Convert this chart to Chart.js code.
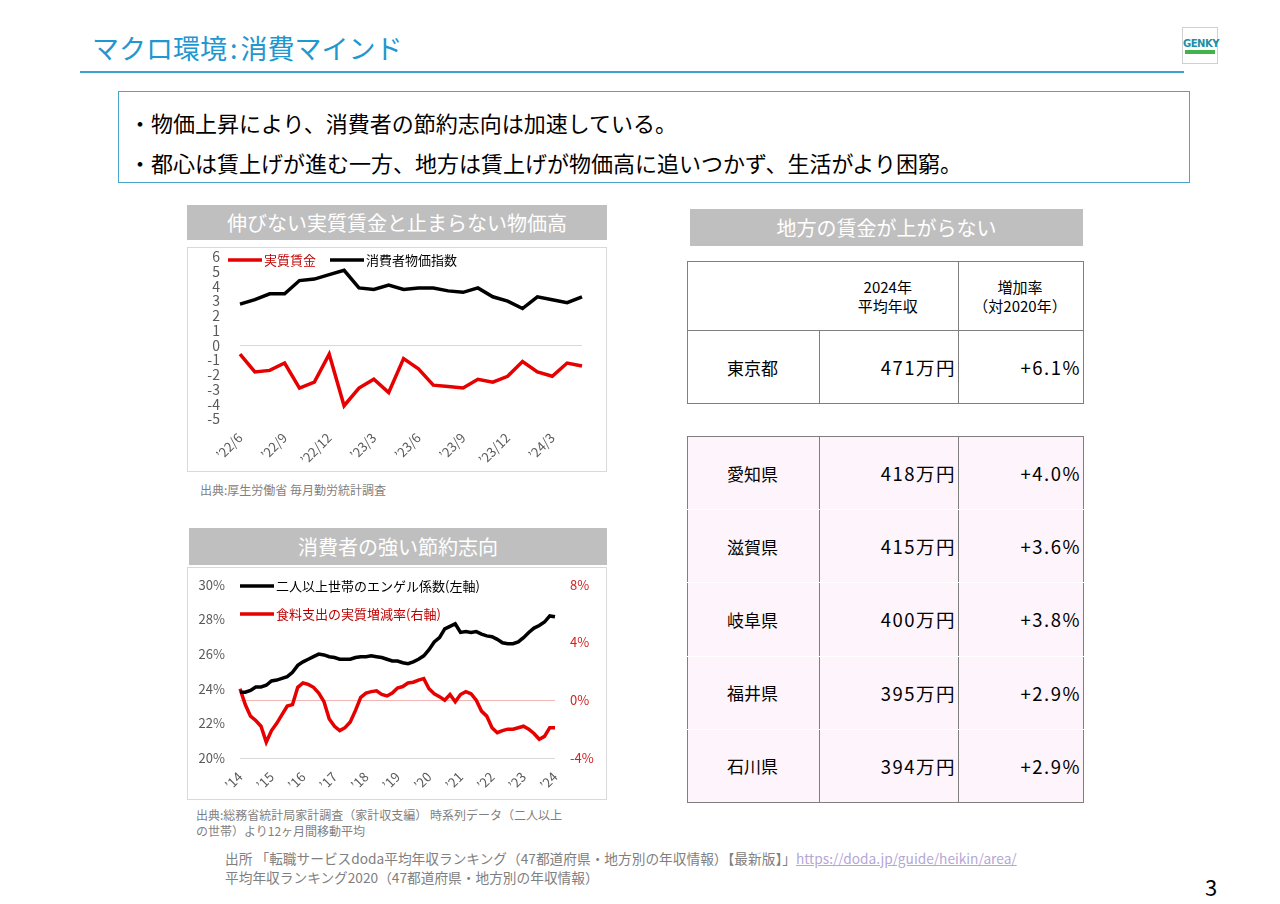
<!DOCTYPE html>
<html lang="ja">
<head>
<meta charset="utf-8">
<script src="https://cdn.jsdelivr.net/npm/chart.js@4.4.1/dist/chart.umd.min.js"></script>
<style>
body{margin:0;width:1280px;height:904px;position:relative;background:#fff;overflow:hidden;
  font-family:"Noto Sans CJK JP","Noto Sans",sans-serif;color:#000}
.abs{position:absolute}
.title{left:92px;top:28px;font-size:27px;color:#1f97cf;white-space:nowrap}
.title span{margin:0 3px}
.rule{left:80px;top:71px;width:1104px;height:2px;background:#3aa3cb}
.logo{left:1182px;top:27px;width:36px;height:37px;border:1px solid #d0d0d0;box-sizing:border-box;text-align:center}
.logo b{display:block;font:bold 10px "DejaVu Sans",sans-serif;color:#1b8fa6;margin-top:10px;letter-spacing:-0.5px}
.logo i{display:block;margin:1px auto 0;width:30px;height:4px;background:#41b34a}
.msg{left:118px;top:91px;width:1072px;height:92px;border:1.5px solid #4aa6c9;box-sizing:border-box;
  font-size:22px;line-height:40px;padding:10px 0 0 10px;white-space:nowrap}
.hdr{background:#bfbfbf;color:#fff;font-size:20px;text-align:center;white-space:nowrap}
.box{border:1px solid #d9d9d9;box-sizing:border-box}
.src{font-size:12px;color:#7f7f7f;line-height:16px;white-space:nowrap}
table{border-collapse:collapse;table-layout:fixed}
td{border:1px solid #7f7f7f;padding:0 2px 0 0;font-size:17px}
td.c{text-align:center}
td.r{text-align:right;font-size:18.5px;letter-spacing:1.5px}
.t2 td{background:#fdf4fc;border-top:1px solid #fff;border-bottom:1px solid #fff}
.t2 tr:first-child td{border-top:1px solid #7f7f7f}
.t2 tr:last-child td{border-bottom:1px solid #7f7f7f}
.foot{left:225px;font-size:13.7px;color:#808080;line-height:16px;white-space:nowrap}
.foot a{color:#b4a7d6;text-decoration:underline}
.pg{left:1205px;top:870px;font-size:22px}
</style>
</head>
<body>
<div class="abs title">マクロ環境<span>:</span>消費マインド</div>
<div class="abs rule"></div>
<div class="abs logo"><b>GENKY</b><i></i></div>
<div class="abs msg">・物価上昇により、消費者の節約志向は加速している。<br>・都心は賃上げが進む一方、地方は賃上げが物価高に追いつかず、生活がより困窮。</div>

<div class="abs hdr" style="left:187px;top:205px;width:420px;height:35px;line-height:35px">伸びない実質賃金と止まらない物価高</div>
<div class="abs box" style="left:187px;top:247px;width:420px;height:225px"></div>
<canvas id="wageChart" class="abs" width="420" height="242" style="left:187px;top:230px"></canvas>
<div class="abs src" style="left:200px;top:482px">出典:厚生労働省 毎月勤労統計調査</div>

<div class="abs hdr" style="left:189px;top:528px;width:418px;height:37px;line-height:37px">消費者の強い節約志向</div>
<div class="abs box" style="left:187px;top:567px;width:420px;height:233px"></div>
<canvas id="engelChart" class="abs" width="420" height="238" style="left:187px;top:562px"></canvas>
<div class="abs src" style="left:196px;top:807px">出典:総務省統計局家計調査（家計収支編） 時系列データ（二人以上</div>
<div class="abs src" style="left:196px;top:823px">の世帯）より12ヶ月間移動平均</div>

<div class="abs hdr" style="left:690px;top:209px;width:393px;height:37px;line-height:37px">地方の賃金が上がらない</div>
<table class="abs" style="left:687px;top:261px;width:396px">
  <colgroup><col style="width:132px"><col style="width:139px"><col style="width:125px"></colgroup>
  <tr style="height:69px"><td style="border-right:none"></td><td class="c" style="border-left:none;font-size:15px;line-height:19px">2024年<br>平均年収</td><td class="c" style="font-size:15px;line-height:19px">増加率<br>（対2020年）</td></tr>
  <tr style="height:73px" id="tokyoRow"></tr>
</table>
<table class="abs t2" style="left:687px;top:436px;width:396px">
  <colgroup><col style="width:132px"><col style="width:139px"><col style="width:125px"></colgroup>
  <tbody id="prefRows"></tbody>
</table>

<div class="abs foot" style="top:850px">出所 「転職サービスdoda平均年収ランキング（47都道府県・地方別の年収情報）【最新版】」<a>https://doda.jp/guide/heikin/area/</a></div>
<div class="abs foot" style="top:869px">平均年収ランキング2020（47都道府県・地方別の年収情報）</div>
<div class="abs pg">3</div>

<script>
// 実質賃金 / 消費者物価指数 (前年同月比 %)
var wageMonths = ["’22/6","’22/7","’22/8","’22/9","’22/10","’22/11","’22/12","’23/1","’23/2","’23/3","’23/4","’23/5",
  "’23/6","’23/7","’23/8","’23/9","’23/10","’23/11","’23/12","’24/1","’24/2","’24/3","’24/4","’24/5"];
var realWage = [-0.6,-1.8,-1.7,-1.2,-2.9,-2.5,-0.6,-4.1,-2.9,-2.3,-3.2,-0.9,-1.6,-2.7,-2.8,-2.9,-2.3,-2.5,-2.1,-1.1,-1.8,-2.1,-1.2,-1.4];
var cpi = [2.8,3.1,3.5,3.5,4.4,4.5,4.8,5.1,3.9,3.8,4.1,3.8,3.9,3.9,3.7,3.6,3.9,3.3,3.0,2.5,3.3,3.1,2.9,3.3];

// エンゲル係数 / 食料支出の実質増減率 (12ヶ月移動平均, 2ヶ月おき)
var engelYears = ["’14","’15","’16","’17","’18","’19","’20","’21","’22","’23","’24"];
var engel = [23.8,23.8,23.9,24.1,24.1,24.2,24.45,24.5,24.6,24.7,
  24.95,25.35,25.55,25.7,25.85,26.0,25.95,25.85,25.8,25.7,
  25.7,25.7,25.8,25.85,25.85,25.9,25.85,25.8,25.7,25.6,
  25.6,25.5,25.45,25.55,25.7,25.9,26.25,26.7,26.95,27.45,
  27.6,27.75,27.25,27.3,27.25,27.3,27.15,27.05,27.0,26.85,
  26.65,26.6,26.6,26.7,26.95,27.25,27.5,27.65,27.85,28.2,28.15];
var foodReal = [0.8,-0.3,-1.1,-1.4,-1.8,-2.9,-2.1,-1.6,-1.0,-0.4,
  -0.3,0.9,1.2,1.1,0.9,0.5,-0.1,-1.3,-1.8,-2.1,
  -1.9,-1.5,-0.7,0.2,0.5,0.6,0.65,0.4,0.3,0.5,
  0.85,0.95,1.2,1.25,1.4,1.5,0.8,0.45,0.25,0.0,
  0.4,-0.1,0.4,0.6,0.45,0.0,-0.75,-1.1,-1.9,-2.25,
  -2.1,-2.0,-2.0,-1.9,-1.8,-2.0,-2.3,-2.7,-2.5,-1.9,-1.9];

// 平均年収テーブル
var prefs = ["東京都","愛知県","滋賀県","岐阜県","福井県","石川県"];
var income = ["471万円","418万円","415万円","400万円","395万円","394万円"];
var growth = ["+6.1%","+4.0%","+3.6%","+3.8%","+2.9%","+2.9%"];

function rowHtml(i){
  return '<td class="c">'+prefs[i]+'</td><td class="r">'+income[i]+'</td><td class="r">'+growth[i]+'</td>';
}
document.getElementById('tokyoRow').innerHTML = rowHtml(0);
var rows = '';
for (var i = 1; i < prefs.length; i++) rows += '<tr style="height:73.2px">' + rowHtml(i) + '</tr>';
document.getElementById('prefRows').innerHTML = rows;

Chart.defaults.font.family = '"Noto Sans CJK JP","Noto Sans",sans-serif';
Chart.defaults.animation = false;

// legend drawn inside the plot, Excel style
var lineLegend = {
  id: 'lineLegend',
  afterDraw: function(chart, args, opts){
    var ctx = chart.ctx;
    ctx.save();
    opts.items.forEach(function(it, i){
      var ds = chart.data.datasets[i];
      ctx.strokeStyle = ds.borderColor;
      ctx.lineWidth = 3.5;
      ctx.beginPath();
      ctx.moveTo(it.x, it.y);
      ctx.lineTo(it.x + 34, it.y);
      ctx.stroke();
      ctx.fillStyle = it.color;
      ctx.font = '13px "Noto Sans CJK JP"';
      ctx.textBaseline = 'middle';
      ctx.fillText(ds.label, it.x + 36, it.y);
    });
    ctx.restore();
  }
};

new Chart(document.getElementById('wageChart'), {
  type: 'line',
  data: {
    labels: wageMonths,
    datasets: [
      {label: '実質賃金', data: realWage, borderColor: '#e60000', borderWidth: 3.5, pointRadius: 0, tension: 0},
      {label: '消費者物価指数', data: cpi, borderColor: '#000000', borderWidth: 3.5, pointRadius: 0, tension: 0}
    ]
  },
  options: {
    responsive: false,
    layout: {padding: {top: 0, right: 25}},
    plugins: {
      legend: {display: false},
      tooltip: {enabled: false},
      lineLegend: {items: [{x: 41, y: 30, color: '#c00000'}, {x: 143, y: 30, color: '#000'}]}
    },
    scales: {
      x: {
        grid: {display: false},
        border: {display: false},
        afterFit: function(s){ s.height = 53; },
        ticks: {autoSkip: false, minRotation: 45, maxRotation: 45, color: '#595959', font: {size: 13},
          callback: function(v, i){ return i % 3 === 0 ? this.getLabelForValue(v) : ''; }}
      },
      y: {
        min: -5, max: 6,
        border: {display: false},
        afterFit: function(s){ s.width = 53; },
        grid: {drawTicks: false, color: function(c){ return c.tick.value === 0 ? '#d9d9d9' : 'rgba(0,0,0,0)'; }},
        ticks: {stepSize: 1, autoSkip: false, padding: 20, color: '#595959', font: {size: 14, lineHeight: 1}}
      }
    }
  },
  plugins: [lineLegend]
});

var engelLabels = engel.map(function(_, i){ return i % 6 === 0 ? engelYears[i / 6] : ''; });

new Chart(document.getElementById('engelChart'), {
  type: 'line',
  data: {
    labels: engelLabels,
    datasets: [
      {label: '二人以上世帯のエンゲル係数(左軸)', data: engel, yAxisID: 'y', borderColor: '#000000', borderWidth: 3.5, pointRadius: 0, tension: 0},
      {label: '食料支出の実質増減率(右軸)', data: foodReal, yAxisID: 'y1', borderColor: '#e60000', borderWidth: 3.5, pointRadius: 0, tension: 0}
    ]
  },
  options: {
    responsive: false,
    layout: {padding: {top: 13}},
    plugins: {
      legend: {display: false},
      tooltip: {enabled: false},
      lineLegend: {items: [{x: 53, y: 24, color: '#000'}, {x: 53, y: 52, color: '#c00000'}]}
    },
    scales: {
      x: {
        grid: {display: false},
        border: {display: false},
        afterFit: function(s){ s.height = 42; },
        ticks: {autoSkip: false, minRotation: 45, maxRotation: 45, color: '#595959', font: {size: 13}}
      },
      y: {
        position: 'left', min: 20, max: 30,
        border: {display: false},
        afterFit: function(s){ s.width = 53; },
        grid: {drawTicks: false, color: function(c){ return c.tick.value === 20 ? '#d9d9d9' : 'rgba(0,0,0,0)'; }},
        ticks: {stepSize: 2, padding: 15, color: '#595959', font: {size: 13}, callback: function(v){ return v + '%'; }}
      },
      y1: {
        position: 'right', min: -4, max: 8,
        border: {display: false},
        afterFit: function(s){ s.width = 52; },
        grid: {drawTicks: false, color: function(c){ return c.tick.value === 0 ? '#f4b5b5' : 'rgba(0,0,0,0)'; }},
        ticks: {stepSize: 4, padding: 15, color: '#d42020', font: {size: 13}, callback: function(v){ return v + '%'; }}
      }
    }
  },
  plugins: [lineLegend]
});
</script>
</body>
</html>
